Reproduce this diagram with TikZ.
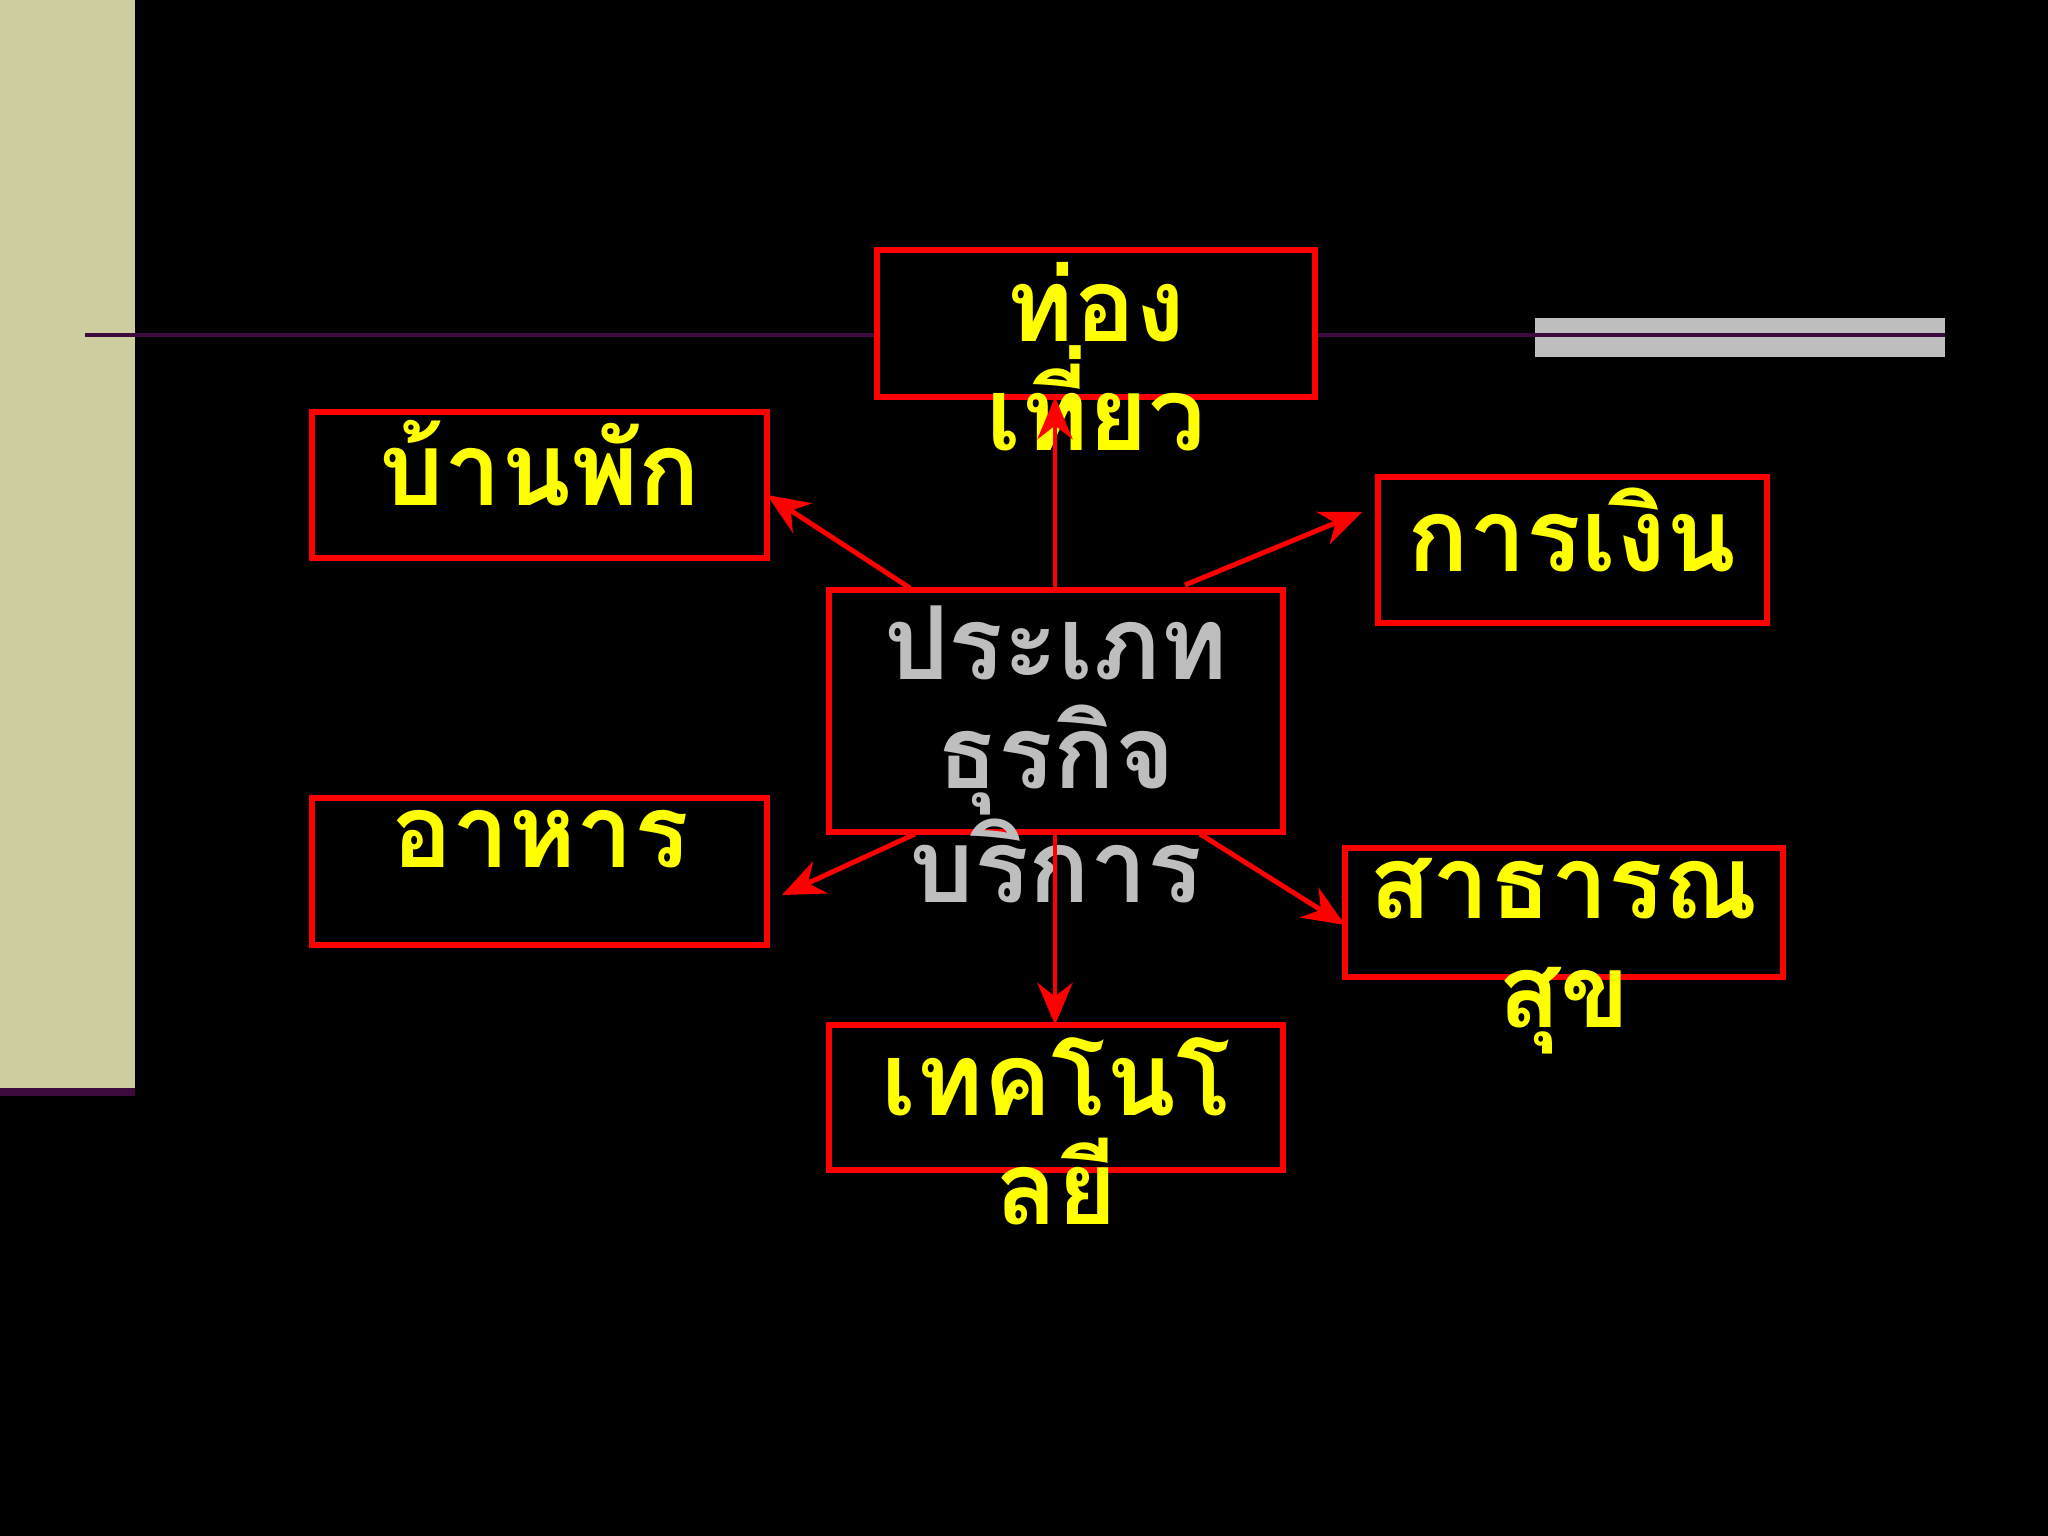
\documentclass[tikz,border=0pt]{standalone}
\usepackage{fontspec}
\newfontfamily\thaifont[Script=Thai]{Loma}
\usetikzlibrary{arrows.meta}
\definecolor{ylw}{RGB}{255,255,0}
\definecolor{gry}{RGB}{190,190,190}
\definecolor{beige}{RGB}{205,205,160}
\definecolor{plum}{RGB}{60,10,60}
\begin{document}
\begin{tikzpicture}[x=0.01cm,y=-0.01cm,
  bx/.style={red,line width=1.7pt},
  lbl/.style={font=\thaifont\bfseries\fontsize{29}{31}\selectfont,text=ylw,align=center,anchor=north,inner sep=0pt},
  arr/.style={red,line width=1.4pt,-{Stealth[length=12pt,width=10pt]}}]
\fill[black] (0,0) rectangle (2048,1536);
\useasboundingbox (0,0) rectangle (2048,1536);
\fill[beige] (0,0) rectangle (135,1088);
\fill[plum] (0,1088) rectangle (135,1096);
\fill[gry] (1535,318) rectangle (1945,357);
\draw[plum,line width=1.2pt] (85,335) -- (1945,335);
% boxes
\draw[bx,fill=black] (877,250) rectangle (1315,397);
\draw[bx] (312,412) rectangle (767,558);
\draw[bx] (1378,477) rectangle (1767,623);
\draw[bx] (829,590) rectangle (1283,832);
\draw[bx] (312,798) rectangle (767,945);
\draw[bx] (1345,848) rectangle (1783,977);
\draw[bx] (829,1025) rectangle (1283,1170);
% texts
\node[lbl] (t1) at (1096,262) {ท่อง\\เที่ยว};
\node[lbl] (t2) at (540,420) {บ้านพัก};
\node[lbl] (t3) at (1572,487) {การเงิน};
\node[lbl,text=gry] (c) at (1056,605) {ประเภท\\ธุรกิจ\\บริการ};
\node[lbl] (t4) at (540,810) {อาหาร};
\node[lbl] (t5) at (1564,858) {สาธารณ\\สุข};
\node[lbl] (t6) at (1056,1037) {เทคโนโ\\ลยี};
% connectors
\coordinate (o1) at (1055,590); \coordinate (e1) at (1055,397);
\coordinate (o2) at (910,588); \coordinate (e2) at (767,495);
\coordinate (o3) at (1185,585); \coordinate (e3) at (1362,512);
\coordinate (o4) at (915,834); \coordinate (e4) at (782,895);
\coordinate (o5) at (1200,834); \coordinate (e5) at (1345,925);
\coordinate (o6) at (1055,834); \coordinate (e6) at (1055,1025);
\foreach \i in {1,...,6} \draw[arr] (o\i) -- (e\i);
\end{tikzpicture}
\end{document}
